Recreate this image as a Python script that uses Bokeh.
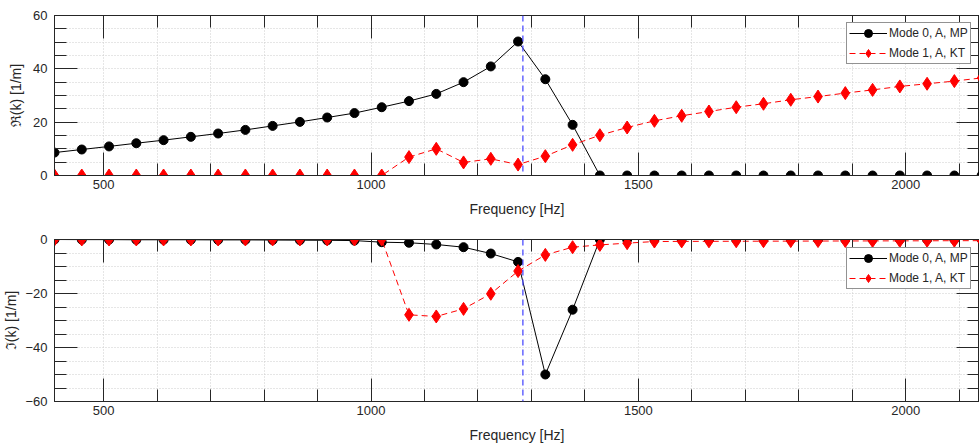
from bokeh.plotting import figure
from bokeh.models import (LinearAxis, FixedTicker, Span, Legend, LegendItem, Range1d,
                          CustomLabelingPolicy)
from bokeh.layouts import column
from bokeh.embed import file_html
from bokeh.resources import INLINE

# ---------------- data ----------------
freq = [408, 459, 510, 561, 612, 663, 714, 765, 816, 867, 918, 969, 1020, 1071,
        1122, 1173, 1224, 1275, 1326, 1377, 1428, 1479, 1530, 1581, 1632, 1683,
        1734, 1785, 1836, 1887, 1938, 1989, 2040, 2091, 2142]

re_mode0 = [8.6, 9.75, 10.9, 12.1, 13.25, 14.5, 15.75, 17.1, 18.6, 20.1, 21.75,
            23.4, 25.6, 27.9, 30.6, 35.0, 40.9, 50.25, 36.1, 19.0,
            0, 0, 0, 0, 0, 0, 0, 0, 0, 0, 0, 0, 0, 0, 0]
re_mode1 = [0, 0, 0, 0, 0, 0, 0, 0, 0, 0, 0, 0, 0,
            6.9, 10.0, 4.9, 6.25, 4.1, 7.25, 11.5, 15.1, 18.0, 20.5, 22.4, 24.0,
            25.6, 26.9, 28.4, 29.6, 30.9, 32.1, 33.4, 34.4, 35.4, 36.6]
im_mode0 = [0, -0.05, -0.05, -0.1, -0.1, -0.1, -0.15, -0.15, -0.2, -0.25, -0.3,
            -0.4, -1.0, -1.2, -1.85, -2.85, -5.2, -8.3, -50.0, -26.0,
            0, 0, 0, 0, 0, 0, 0, 0, 0, 0, 0, 0, 0, 0, 0]
im_mode1 = [0, 0, 0, 0, 0, 0, 0, 0, 0, 0, 0, 0, 0,
            -27.9, -28.5, -25.7, -20.1, -11.7, -5.7, -2.85, -2.0, -1.35, -0.75,
            -0.7, -0.68, -0.65, -0.62, -0.6, -0.57, -0.55, -0.52, -0.5, -0.48,
            -0.45, -0.43]

resonance_freq = 1284
labels = ["Mode 0, A, MP", "Mode 1, A, KT"]
x_major = [500, 1000, 1500, 2000]
x_minor = [f for f in range(400, 2201, 100) if f not in x_major]

DARK = "#262626"
FONT = "Liberation Sans"
GRID = "#cccccc"


def style_axis(ax, show_labels):
    ax.axis_line_color = DARK
    ax.major_tick_line_color = DARK
    ax.minor_tick_line_color = DARK
    ax.major_tick_out = 0
    ax.minor_tick_out = 0
    ax.major_tick_in = 23
    ax.minor_tick_in = 12
    if show_labels:
        ax.major_label_text_font = FONT
        ax.major_label_text_font_size = "13px"
        ax.major_label_text_color = DARK
        ax.axis_label_text_font = FONT
        ax.axis_label_text_font_size = "14px"
        ax.axis_label_text_font_style = "normal"
        ax.axis_label_text_color = DARK
    else:
        ax.major_label_policy = CustomLabelingPolicy(
            code="for (const i of indices) indices.unset(i)")
        ax.major_label_text_font_size = "0px"
        ax.major_label_standoff = 0
        ax.axis_label = None


def make_fig(height, top_b, bottom_b, yr, y_major, y_minor, ylabel, y_re0, y_re1,
             legend_y, ylabel_standoff):
    p = figure(width=979, height=height, x_range=Range1d(408, 2138),
               y_range=Range1d(*yr), output_backend="svg", toolbar_location=None,
               min_border_left=52, min_border_right=0, min_border_top=top_b,
               min_border_bottom=bottom_b)
    p.background_fill_color = "white"
    p.border_fill_color = "white"
    p.outline_line_color = DARK
    xt = FixedTicker(ticks=x_major, minor_ticks=x_minor)
    yt = FixedTicker(ticks=y_major, minor_ticks=y_minor)

    xb = p.xaxis[0]
    yl = p.yaxis[0]
    xb.ticker = xt
    yl.ticker = yt
    xb.axis_label = "Frequency [Hz]"
    yl.axis_label = ylabel
    style_axis(xb, True)
    style_axis(yl, True)
    xb.major_label_standoff = 4
    xb.axis_label_standoff = 9
    yl.major_label_standoff = 7
    yl.axis_label_standoff = ylabel_standoff

    xa = LinearAxis(ticker=xt)
    yr_ax = LinearAxis(ticker=yt)
    style_axis(xa, False)
    style_axis(yr_ax, False)
    p.add_layout(xa, "above")
    p.add_layout(yr_ax, "right")

    for g, t in ((p.xgrid[0], xt), (p.ygrid[0], yt)):
        g.ticker = t
        g.grid_line_color = GRID
        g.grid_line_dash = "1 2"
        g.minor_grid_line_color = GRID
        g.minor_grid_line_dash = "1 2"

    l0 = p.line(freq, y_re0, line_color="black", line_width=1)
    s0 = p.scatter(freq, y_re0, marker="circle", size=9, fill_color="black",
                   line_color="black")
    l1 = p.line(freq, y_re1, line_color="red", line_width=1, line_dash="6 4")
    s1 = p.scatter(freq, y_re1, marker="diamond", size=13, fill_color="red",
                   line_color="red")

    p.add_layout(Span(location=resonance_freq, dimension="height",
                      line_color="#4d4dff", line_dash="6 4", line_width=1.3))

    leg = Legend(items=[LegendItem(label=labels[0], renderers=[l0, s0]),
                        LegendItem(label=labels[1], renderers=[l1, s1])],
                 location=(792, legend_y))
    leg.label_text_font = FONT
    leg.label_text_font_size = "12px"
    leg.label_text_color = DARK
    leg.glyph_width = 38
    leg.glyph_height = 20
    leg.label_height = 20
    leg.label_standoff = 2
    leg.spacing = -4
    leg.padding = dict(left=2, right=2, top=0, bottom=0)
    leg.margin = 0
    leg.border_line_color = DARK
    leg.border_line_width = 1
    leg.background_fill_alpha = 1
    p.add_layout(leg)
    return p


p1 = make_fig(225, 15, 50, (0, 60), [0, 20, 40, 60],
              [v for v in range(0, 61, 5) if v % 20],
              "\u211c(k) [1/m]", re_mode0, re_mode1, 111, 6)
p2 = make_fig(221, 14, 45, (-60, 0), [-60, -40, -20, 0],
              [v for v in range(-60, 1, 5) if v % 20],
              "\u2111(k) [1/m]", im_mode0, im_mode1, 112, 3)

layout = column(p1, p2, spacing=0)
open("out.html", "w").write(file_html(layout, INLINE))
